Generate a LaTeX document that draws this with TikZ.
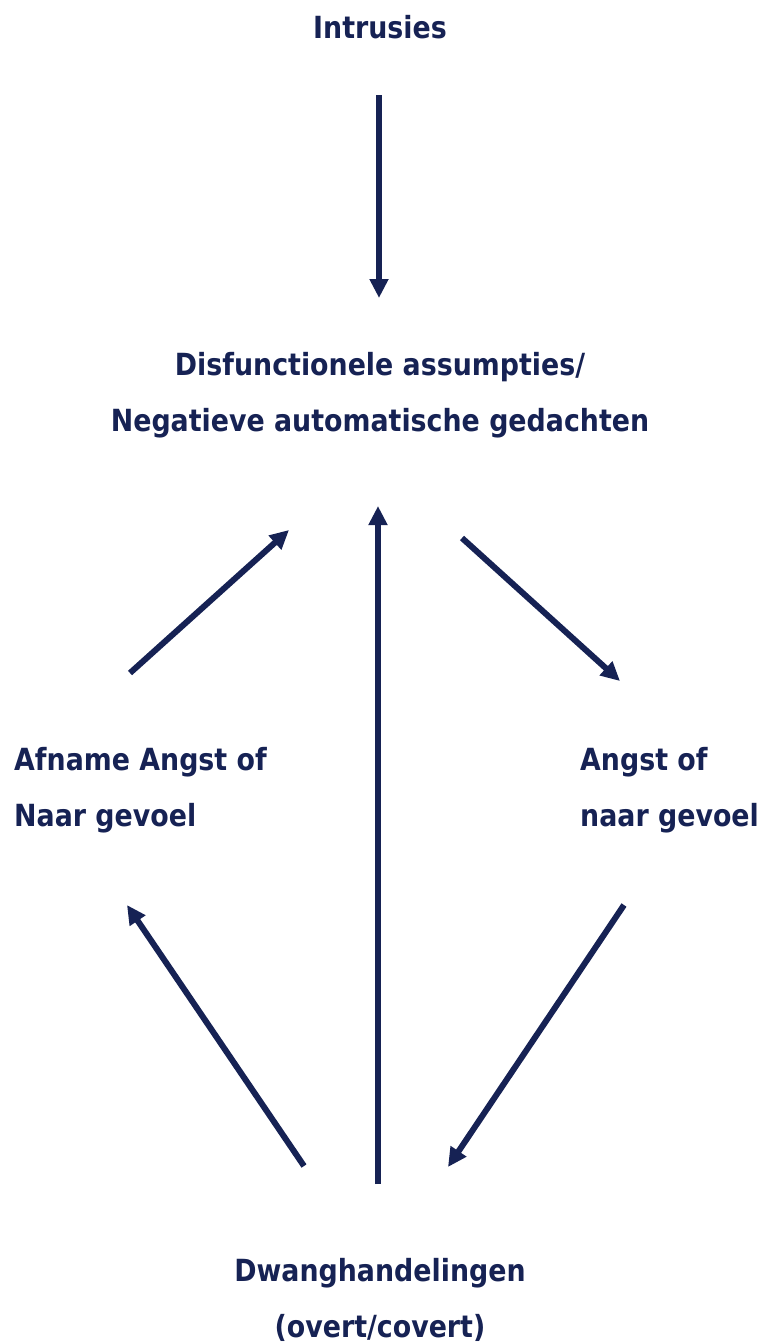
\documentclass[tikz,border=0pt]{standalone}
\usepackage{fontspec}
\setmainfont[FakeStretch=0.88]{DejaVu Sans}
\usetikzlibrary{arrows.meta}
\definecolor{navy}{RGB}{22,34,84}
\tikzset{
  lbl/.style={text=navy, font=\fontsize{30.5}{56}\selectfont\bfseries, inner sep=0pt},
  conn/.style={draw=navy, line width=6pt, -{Triangle[length=19pt,width=18pt]}}
}
\begin{document}
\begin{tikzpicture}[x=1pt,y=-1pt]
\useasboundingbox (0,0) rectangle (764,1344);
\node[lbl] (intr) at (380,27) {Intrusies};
\node[lbl, align=center] (dis) at (380,395) {Disfunctionele assumpties/\\Negatieve automatische gedachten};
\node[lbl, align=left, anchor=west] (afn) at (14,790) {Afname Angst of\\Naar gevoel};
\node[lbl, align=left, anchor=west] (ang) at (580,790) {Angst of\\naar gevoel};
\node[lbl, align=center] (dwa) at (380,1300) {Dwanghandelingen\\(overt/covert)};
\coordinate (a1s) at (379,95);   \coordinate (a1e) at (379,298);
\coordinate (a2s) at (130,673);  \coordinate (a2e) at (289,530);
\coordinate (a3s) at (378,1184); \coordinate (a3e) at (378,506);
\coordinate (a4s) at (462,538);  \coordinate (a4e) at (620,681);
\coordinate (a5s) at (624,905);  \coordinate (a5e) at (448,1167);
\coordinate (a6s) at (304,1166); \coordinate (a6e) at (127,905);
\draw[conn] (a1s) -- (a1e);
\draw[conn] (a2s) -- (a2e);
\draw[conn] (a3s) -- (a3e);
\draw[conn] (a4s) -- (a4e);
\draw[conn] (a5s) -- (a5e);
\draw[conn] (a6s) -- (a6e);
\end{tikzpicture}
\end{document}
